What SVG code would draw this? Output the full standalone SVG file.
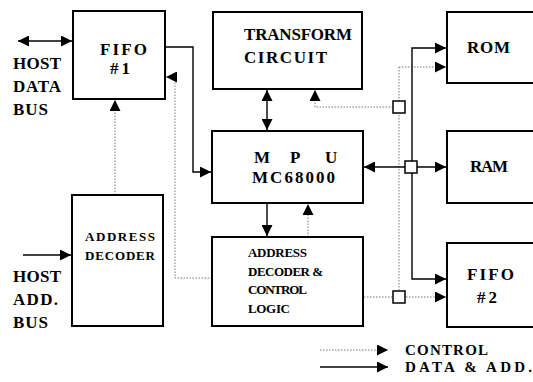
<svg xmlns="http://www.w3.org/2000/svg" width="533" height="382" viewBox="0 0 533 382">
<style>
.box{fill:#fff;stroke:#000;stroke-width:2}
.t{font-family:"Liberation Serif",serif;font-weight:bold;font-size:17px;fill:#000}
.l{font-family:"Liberation Serif",serif;font-weight:bold;font-size:15px;fill:#000}
.s{font-family:"Liberation Serif",serif;font-weight:bold;font-size:13px;fill:#000}
.d{fill:none;stroke:#000;stroke-width:1.4}
.c{fill:none;stroke:#777;stroke-width:1;stroke-dasharray:1.5 1.5}
.sq{fill:#fff;stroke:#000;stroke-width:1.5}
</style>
<defs>
<marker id="a" markerUnits="userSpaceOnUse" markerWidth="11" markerHeight="11" refX="10" refY="5" orient="auto-start-reverse" viewBox="0 0 10 10">
<path d="M0,0 L10,5 L0,10 z" fill="#000"/>
</marker>
</defs>
<rect width="533" height="382" fill="#fff"/>
<g id="connectors">
<path class="d" d="M18,41 H72" marker-start="url(#a)" marker-end="url(#a)"/>
<path class="d" d="M165,47 H193 V172 H211" marker-end="url(#a)"/>
<path class="c" d="M212,278 H175 V77 H166" marker-end="url(#a)"/>
<path class="c" d="M115,195 V100" marker-end="url(#a)"/>
<path class="d" d="M23,255 H71" marker-end="url(#a)"/>
<path class="d" d="M267,90 V130" marker-start="url(#a)" marker-end="url(#a)"/>
<path class="c" d="M393,107 H315 V90" marker-end="url(#a)"/>
<path class="c" d="M399,67 V291"/>
<path class="c" d="M399,67 H446" marker-end="url(#a)"/>
<path class="d" d="M446,48 H412 V279 H446" marker-start="url(#a)" marker-end="url(#a)"/>
<path class="d" d="M364,167 H446" marker-start="url(#a)" marker-end="url(#a)"/>
<path class="c" d="M364,297 H446" marker-end="url(#a)"/>
<path class="d" d="M267,204 V236" marker-end="url(#a)"/>
<path class="c" d="M308,237 V204" marker-end="url(#a)"/>
<path class="c" d="M320,350 H388" marker-end="url(#a)"/>
<path class="d" d="M320,367 H388" marker-end="url(#a)"/>
<rect class="sq" x="393" y="101" width="12" height="12"/>
<rect class="sq" x="405" y="161" width="12" height="12"/>
<rect class="sq" x="393" y="291" width="12" height="12"/>
</g>
<g id="host-data-bus">
<text class="t" x="13" y="69" textLength="48">HOST</text>
<text class="t" x="13" y="92" textLength="48">DATA</text>
<text class="t" x="13" y="115" textLength="35">BUS</text>
</g>
<g id="fifo1">
<rect class="box" x="73" y="11" width="92" height="88"/>
<text class="t" x="100" y="55" textLength="47">FIFO</text>
<text class="t" x="110" y="74" textLength="20">#1</text>
</g>
<g id="transform">
<rect class="box" x="213" y="12" width="149" height="77"/>
<text class="t" x="244" y="40" textLength="108">TRANSFORM</text>
<text class="t" x="244" y="63" textLength="83">CIRCUIT</text>
</g>
<g id="mpu">
<rect class="box" x="212" y="131" width="151" height="72"/>
<text class="t" x="254" y="163">M</text>
<text class="t" x="290" y="163">P</text>
<text class="t" x="325" y="163">U</text>
<text class="t" x="252" y="183" textLength="83">MC68000</text>
</g>
<g id="address-decoder">
<rect class="box" x="72" y="195" width="91" height="131"/>
<text class="s" x="85" y="241" textLength="70">ADDRESS</text>
<text class="s" x="85" y="260" textLength="70">DECODER</text>
</g>
<g id="host-add-bus">
<text class="t" x="13" y="282" textLength="48">HOST</text>
<text class="t" x="13" y="305" textLength="45">ADD.</text>
<text class="t" x="13" y="328" textLength="35">BUS</text>
</g>
<g id="control-logic">
<rect class="box" x="212" y="237" width="151" height="89"/>
<text class="s" x="248" y="257" textLength="59">ADDRESS</text>
<text class="s" x="248" y="276" textLength="75">DECODER &amp;</text>
<text class="s" x="248" y="294" textLength="59">CONTROL</text>
<text class="s" x="248" y="313" textLength="42">LOGIC</text>
</g>
<g id="rom">
<rect class="box" x="447" y="12" width="95" height="71"/>
<text class="t" x="467" y="53" textLength="43">ROM</text>
</g>
<g id="ram">
<rect class="box" x="447" y="131" width="95" height="72"/>
<text class="t" x="470" y="172" textLength="38">RAM</text>
</g>
<g id="fifo2">
<rect class="box" x="447" y="243" width="95" height="84"/>
<text class="t" x="467" y="280" textLength="47">FIFO</text>
<text class="t" x="477" y="303" textLength="20">#2</text>
</g>
<g id="legend">
<text class="l" x="405" y="355" textLength="83">CONTROL</text>
<text class="l" x="405" y="372" textLength="127">DATA &amp; ADD.</text>
</g>
</svg>
